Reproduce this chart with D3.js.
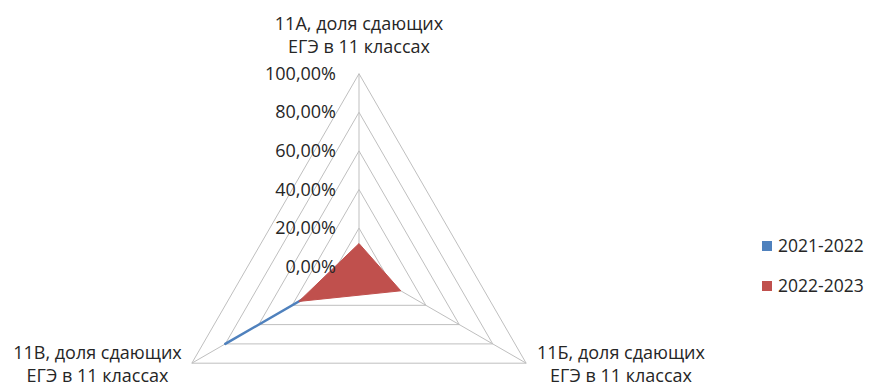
<!DOCTYPE html>
<html><head><meta charset="utf-8">
<script src="https://cdn.jsdelivr.net/npm/d3@7"></script>
<style>body{margin:0;background:#fff}svg{display:block}text{font-family:"Open Sans","Liberation Sans",sans-serif;fill:#262626}</style>
</head><body><svg id="c" width="871" height="385"></svg>
<script>
const categories = [["11А, доля сдающих","ЕГЭ в 11 классах"],["11Б, доля сдающих","ЕГЭ в 11 классах"],["11В, доля сдающих","ЕГЭ в 11 классах"]];
const seriesNames = ["2021-2022","2022-2023"];
const values2021 = [0, 0, 0.80];
const values2022 = [0.12, 0.25, 0.36];
const tickValues = [0, 0.2, 0.4, 0.6, 0.8, 1.0];
const tickLabels = ["0,00%","20,00%","40,00%","60,00%","80,00%","100,00%"];
const colors = ["#4f81bd","#c0504d"];

const svg = d3.select("#c");
const cx = 359, cy = 266.7;
const r = d3.scaleLinear().domain([0,1]).range([0,193]);
const ang = d3.scaleLinear().domain([0,3]).range([0, 2*Math.PI]);
const pt = (i,v)=>{const a=ang(i); return [cx + r(v)*Math.sin(a), cy - r(v)*Math.cos(a)];};

const g = svg.append("g");
tickValues.slice(1).forEach(t=>{
  g.append("path").attr("d", d3.line()([0,1,2,0].map(i=>pt(i,t))))
   .attr("fill","none").attr("stroke","#bfbfbf").attr("stroke-width",1);
});
[0,1,2].forEach(i=>{
  g.append("line").attr("x1",cx).attr("y1",cy).attr("x2",pt(i,1)[0]).attr("y2",pt(i,1)[1])
   .attr("stroke","#bfbfbf").attr("stroke-width",1);
});
const line = d3.line().curve(d3.curveLinearClosed);
g.append("path").attr("d", line(values2021.map((v,i)=>pt(i,v))))
  .attr("fill", colors[0]).attr("stroke", colors[0]).attr("stroke-width",2.5).attr("stroke-linejoin","round");
g.append("path").attr("d", line(values2022.map((v,i)=>pt(i,v))))
  .attr("fill", colors[1]).attr("stroke", colors[1]).attr("stroke-width",1);
tickValues.forEach((t,k)=>{
  g.append("text").attr("x", cx-23).attr("y", pt(0,t)[1]+6).attr("text-anchor","end")
   .attr("font-size",18).text(tickLabels[k]);
});
const labPos = [[359,30],[621,359],[97.5,359]];
categories.forEach((c,i)=>{
  c.forEach((s,j)=>{
    g.append("text").attr("x",labPos[i][0]).attr("y",labPos[i][1]+j*23).attr("text-anchor","middle")
     .attr("font-size",18).text(s);
  });
});
seriesNames.forEach((s,i)=>{
  const y = 246 + i*40;
  svg.append("rect").attr("x",762).attr("y",y-5).attr("width",10).attr("height",10).attr("fill",colors[i]);
  svg.append("text").attr("x",778).attr("y",y+6).attr("font-size",17.5).text(s);
});
</script></body></html>
